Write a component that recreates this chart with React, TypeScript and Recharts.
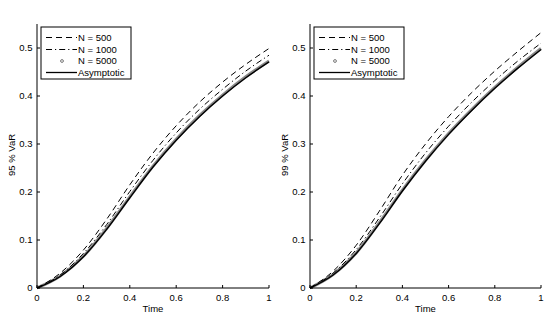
import React from "react";
import { LineChart, Line, XAxis, YAxis } from "recharts";

// time grid
const time = [0, 0.1, 0.2, 0.3, 0.4, 0.5, 0.6, 0.7, 0.8, 0.9, 1];

// 95 % VaR (left panel)
const var95N500 = [0, 0.031, 0.079, 0.143, 0.215, 0.281, 0.338, 0.387, 0.429, 0.466, 0.499];
const var95N1000 = [0, 0.027, 0.072, 0.132, 0.201, 0.266, 0.323, 0.372, 0.414, 0.452, 0.485];
const var95N5000 = [0, 0.025, 0.066, 0.124, 0.19, 0.254, 0.31, 0.359, 0.402, 0.44, 0.473];
const var95Asym = [0, 0.024, 0.065, 0.122, 0.188, 0.252, 0.308, 0.357, 0.4, 0.438, 0.471];

// 99 % VaR (right panel)
const var99N500 = [0, 0.035, 0.089, 0.16, 0.235, 0.3, 0.357, 0.407, 0.452, 0.493, 0.532];
const var99N1000 = [0, 0.031, 0.08, 0.146, 0.217, 0.281, 0.337, 0.387, 0.432, 0.473, 0.51];
const var99N5000 = [0, 0.028, 0.073, 0.136, 0.204, 0.266, 0.322, 0.372, 0.418, 0.46, 0.499];
const var99Asym = [0, 0.027, 0.072, 0.134, 0.202, 0.264, 0.32, 0.37, 0.416, 0.458, 0.497];

const xTicks = [0, 0.2, 0.4, 0.6, 0.8, 1];
const yTicks = [0, 0.1, 0.2, 0.3, 0.4, 0.5];
const legendNames = ["N = 500", "N = 1000", "N = 5000", "Asymptotic"];

const FONT = '"Liberation Sans", Arial, Helvetica, sans-serif';
const FS = 9.5;

const buildRows = (a: number[], b: number[], c: number[], d: number[]) =>
  time.map((t, i) => ({ t, n500: a[i], n1000: b[i], n5000: c[i], asym: d[i] }));

const tickStyle = { fontSize: FS, fill: "#000", fontFamily: FONT };

function LegendBox() {
  const rows = [37.5, 49.5, 61, 72.5];
  return (
    <svg
      width={92}
      height={54}
      style={{ position: "absolute", left: 3, top: 26, overflow: "visible" }}
    >
      <rect x={1} y={1} width={90} height={52} fill="#fff" stroke="#000" strokeWidth={1} />
      <line x1={6} x2={37} y1={rows[0] - 26} y2={rows[0] - 26} stroke="#000" strokeDasharray="6 4" />
      <line x1={6} x2={37} y1={rows[1] - 26} y2={rows[1] - 26} stroke="#000" strokeDasharray="6 3 1.2 3" />
      <circle cx={22} cy={rows[2] - 26} r={1.4} fill="none" stroke="#777" strokeWidth={1} />
      <line x1={6} x2={37} y1={rows[3] - 26} y2={rows[3] - 26} stroke="#000" strokeWidth={1.3} />
      {legendNames.map((n, i) => (
        <text
          key={n}
          x={38}
          y={rows[i] - 26 + 3.4}
          fontSize={FS}
          fontFamily={FONT}
          fill="#000"
        >
          {n}
        </text>
      ))}
    </svg>
  );
}

function Panel({
  rows,
  yLabel,
  left,
  width,
  rightMargin,
}: {
  rows: ReturnType<typeof buildRows>;
  yLabel: string;
  left: number;
  width: number;
  rightMargin: number;
}) {
  return (
    <div style={{ position: "absolute", left, top: 0, width, height: 328 }}>
      <LineChart
        width={width}
        height={328}
        data={rows}
        margin={{ top: 24, right: rightMargin, bottom: 0, left: 0 }}
      >
        <XAxis
          xAxisId="b"
          dataKey="t"
          type="number"
          domain={[0, 1]}
          ticks={xTicks}
          height={40}
          tickSize={-3}
          tickMargin={9}
          tick={tickStyle}
          stroke="#000"
          axisLine={{ stroke: "#000", strokeWidth: 1 }}
          tickLine={{ stroke: "#000" }}
          label={{
            content: () => (
              <text
                x={37 + (width - 37 - rightMargin) / 2}
                y={312}
                textAnchor="middle"
                fontSize={FS}
                fontFamily={FONT}
                fill="#000"
              >
                Time
              </text>
            ),
          }}
        />
        <XAxis
          xAxisId="top"
          orientation="top"
          dataKey="t"
          type="number"
          domain={[0, 1]}
          ticks={xTicks}
          height={0}
          tickSize={-3}
          tick={false}
          axisLine={{ stroke: "#000", strokeWidth: 1 }}
          tickLine={{ stroke: "#000" }}
        />
        <YAxis
          yAxisId="l"
          type="number"
          domain={[0, 0.55]}
          ticks={yTicks}
          width={37}
          tickSize={-3}
          tickMargin={7.5}
          tick={tickStyle}
          axisLine={{ stroke: "#000", strokeWidth: 1 }}
          tickLine={{ stroke: "#000" }}
          label={{
            content: () => (
              <text
                x={0}
                y={0}
                transform="translate(15,155) rotate(-90)"
                textAnchor="middle"
                fontSize={FS}
                fontFamily={FONT}
                fill="#000"
              >
                {yLabel}
              </text>
            ),
          }}
        />
        <YAxis
          yAxisId="r"
          orientation="right"
          type="number"
          domain={[0, 0.55]}
          ticks={yTicks}
          width={0}
          tickSize={-3}
          tick={false}
          axisLine={{ stroke: "#000", strokeWidth: 1 }}
          tickLine={{ stroke: "#000" }}
        />
        <Line
          xAxisId="b"
          yAxisId="l"
          type="monotone"
          dataKey="n5000"
          stroke="#8a8a8a"
          strokeWidth={3}
          dot={false}
          isAnimationActive={false}
        />
        <Line
          xAxisId="b"
          yAxisId="l"
          type="monotone"
          dataKey="asym"
          stroke="#000"
          strokeWidth={1.4}
          dot={false}
          isAnimationActive={false}
        />
        <Line
          xAxisId="b"
          yAxisId="l"
          type="monotone"
          dataKey="n1000"
          stroke="#000"
          strokeWidth={1}
          strokeDasharray="6 3 1.2 3"
          dot={false}
          isAnimationActive={false}
        />
        <Line
          xAxisId="b"
          yAxisId="l"
          type="monotone"
          dataKey="n500"
          stroke="#000"
          strokeWidth={1}
          strokeDasharray="6 4"
          dot={false}
          isAnimationActive={false}
        />
      </LineChart>
      <div style={{ position: "absolute", left: 37, top: 0 }}>
        <LegendBox />
      </div>
    </div>
  );
}

export default function App() {
  const left = buildRows(var95N500, var95N1000, var95N5000, var95Asym);
  const right = buildRows(var99N500, var99N1000, var99N5000, var99Asym);
  return (
    <div
      style={{
        position: "absolute",
        left: 0,
        top: 0,
        width: 545,
        height: 328,
        background: "#fff",
        overflow: "hidden",
      }}
    >
      <Panel rows={left} yLabel="95 % VaR" left={0} width={272} rightMargin={3} />
      <Panel rows={right} yLabel="99 % VaR" left={273} width={272} rightMargin={4} />
    </div>
  );
}
